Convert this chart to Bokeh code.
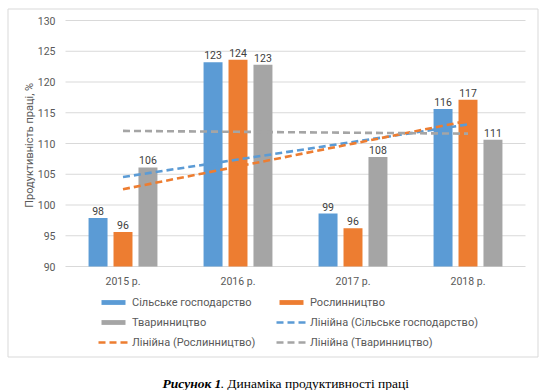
import numpy as np
from bokeh.plotting import figure
from bokeh.models import Range1d, Legend, LegendItem, ColumnDataSource
from bokeh.transform import dodge
from bokeh.core.properties import value
from bokeh.embed import file_html
from bokeh.resources import INLINE

# ---------------- data ----------------
years = ["2015 р.", "2016 р.", "2017 р.", "2018 р."]
agri = [97.9, 123.2, 98.6, 115.6]
crop = [95.6, 123.6, 96.2, 117.1]
livestock = [106.1, 122.8, 107.8, 110.6]
series_names = ["Сільське господарство", "Рослинництво", "Тваринництво"]
trend_names = ["Лінійна (Сільське господарство)", "Лінійна (Рослинництво)", "Лінійна (Тваринництво)"]
y_ticks = [90, 95, 100, 105, 110, 115, 120, 125, 130]
y_label = "Продуктивність праці, %"
caption_bold = "Рисунок 1"
caption_rest = ". Динаміка продуктивності праці"

# ---------------- style / geometry ----------------
colors = ["#5B9BD5", "#ED7D31", "#A5A5A5"]
FONT = "Roboto"
SERIF = "Liberation Serif"
W, H = 550, 390
PLOT_L, PLOT_R = 65, 525          # plot area in figure pixels
PLOT_T, PLOT_B = 20, 266
YMIN, YMAX = 90, 130
ncat = len(years)
px_per_x = (PLOT_R - PLOT_L) / ncat
px_per_y = (PLOT_B - PLOT_T) / (YMAX - YMIN)

def px2x(px):
    return 0.5 + (px - PLOT_L) / px_per_x

def px2y(py):
    return YMIN + (PLOT_B - py) / px_per_y

p = figure(width=W, height=H, output_backend="svg", toolbar_location=None,
           x_range=Range1d(px2x(0), px2x(W)), y_range=Range1d(px2y(H), px2y(0)),
           min_border=0, min_border_left=0, min_border_right=0,
           min_border_top=0, min_border_bottom=0)
p.axis.visible = False
p.grid.visible = False
p.outline_line_color = None
p.background_fill_color = "white"
p.border_fill_color = "white"

# chart border box
p.rect(x=[px2x(272.5)], y=[px2y(182.5)], width=[530 / px_per_x], height=[348 / px_per_y],
       fill_color=None, line_color="#D9D9D9", line_width=1)

# gridlines
x_lo, x_hi = 0.5, ncat + 0.5
p.segment(x0=[x_lo] * len(y_ticks), x1=[x_hi] * len(y_ticks), y0=y_ticks, y1=y_ticks,
          line_color="#D9D9D9", line_width=1)

# y tick labels
p.text(x=[x_lo] * len(y_ticks), y=y_ticks, text=[str(t) for t in y_ticks],
       x_offset=-10, text_align="right", text_baseline="middle",
       text_font=value(FONT), text_font_size="10.5px", text_color="#595959")

# y axis label
p.text(x=[px2x(29)], y=[(YMIN + YMAX) / 2 - 0.3], text=[y_label], angle=np.pi / 2,
       text_align="center", text_baseline="middle",
       text_font=value(FONT), text_font_size="11px", text_color="#595959")

# category labels
xs = np.arange(1, ncat + 1)
p.text(x=list(xs), y=[YMIN] * ncat, text=years, y_offset=8,
       text_align="center", text_baseline="top",
       text_font=value(FONT), text_font_size="10.5px", text_color="#595959")

series = [agri, crop, livestock]
offsets = [-0.217, 0.0, 0.217]
bar_renderers = []
for vals, col, off in zip(series, colors, offsets):
    src = ColumnDataSource(dict(x=list(xs), top=vals, lab=["{:.0f}".format(v) for v in vals]))
    r = p.vbar(x=dodge("x", off), top="top", bottom=YMIN, width=0.165,
               source=src, fill_color=col, line_color=None)
    bar_renderers.append(r)
    p.text(x=dodge("x", off), y="top", text="lab", source=src,
           text_align="center", text_baseline="bottom", y_offset=-3,
           text_font=value(FONT), text_font_size="10.5px", text_color="#404040")

trend_renderers = []
for vals, col in zip(series, colors):
    k, b = np.polyfit(xs, vals, 1)
    tr = p.line(x=list(xs), y=list(k * xs + b), line_color=col, line_width=2.6, line_dash="7 4")
    trend_renderers.append(tr)

items = [
    LegendItem(label=series_names[0], renderers=[bar_renderers[0]]),
    LegendItem(label=series_names[2], renderers=[bar_renderers[2]]),
    LegendItem(label=trend_names[1], renderers=[trend_renderers[1]]),
    LegendItem(label=series_names[1], renderers=[bar_renderers[1]]),
    LegendItem(label=trend_names[0], renderers=[trend_renderers[0]]),
    LegendItem(label=trend_names[2], renderers=[trend_renderers[2]]),
]
legend = Legend(items=items, location=(98, 41), nrows=3, orientation="vertical",
                glyph_width=30, glyph_height=6, label_height=14, label_width=138,
                spacing=6, label_standoff=4, padding=0, margin=0,
                border_line_color=None, background_fill_alpha=0,
                label_text_font=FONT, label_text_font_size="11px",
                label_text_color="#595959")
p.add_layout(legend, "center")

# caption
p.text(x=[px2x(162)], y=[px2y(383)], text=[caption_bold], text_align="left",
       text_baseline="alphabetic", text_font=value(SERIF), text_font_size="13.5px",
       text_font_style="bold italic", text_color="#000000")
p.text(x=[px2x(220)], y=[px2y(383)], text=[caption_rest], text_align="left",
       text_baseline="alphabetic", text_font=value(SERIF), text_font_size="13.5px",
       text_font_style="normal", text_color="#000000")

open("out.html", "w").write(file_html(p, INLINE))
